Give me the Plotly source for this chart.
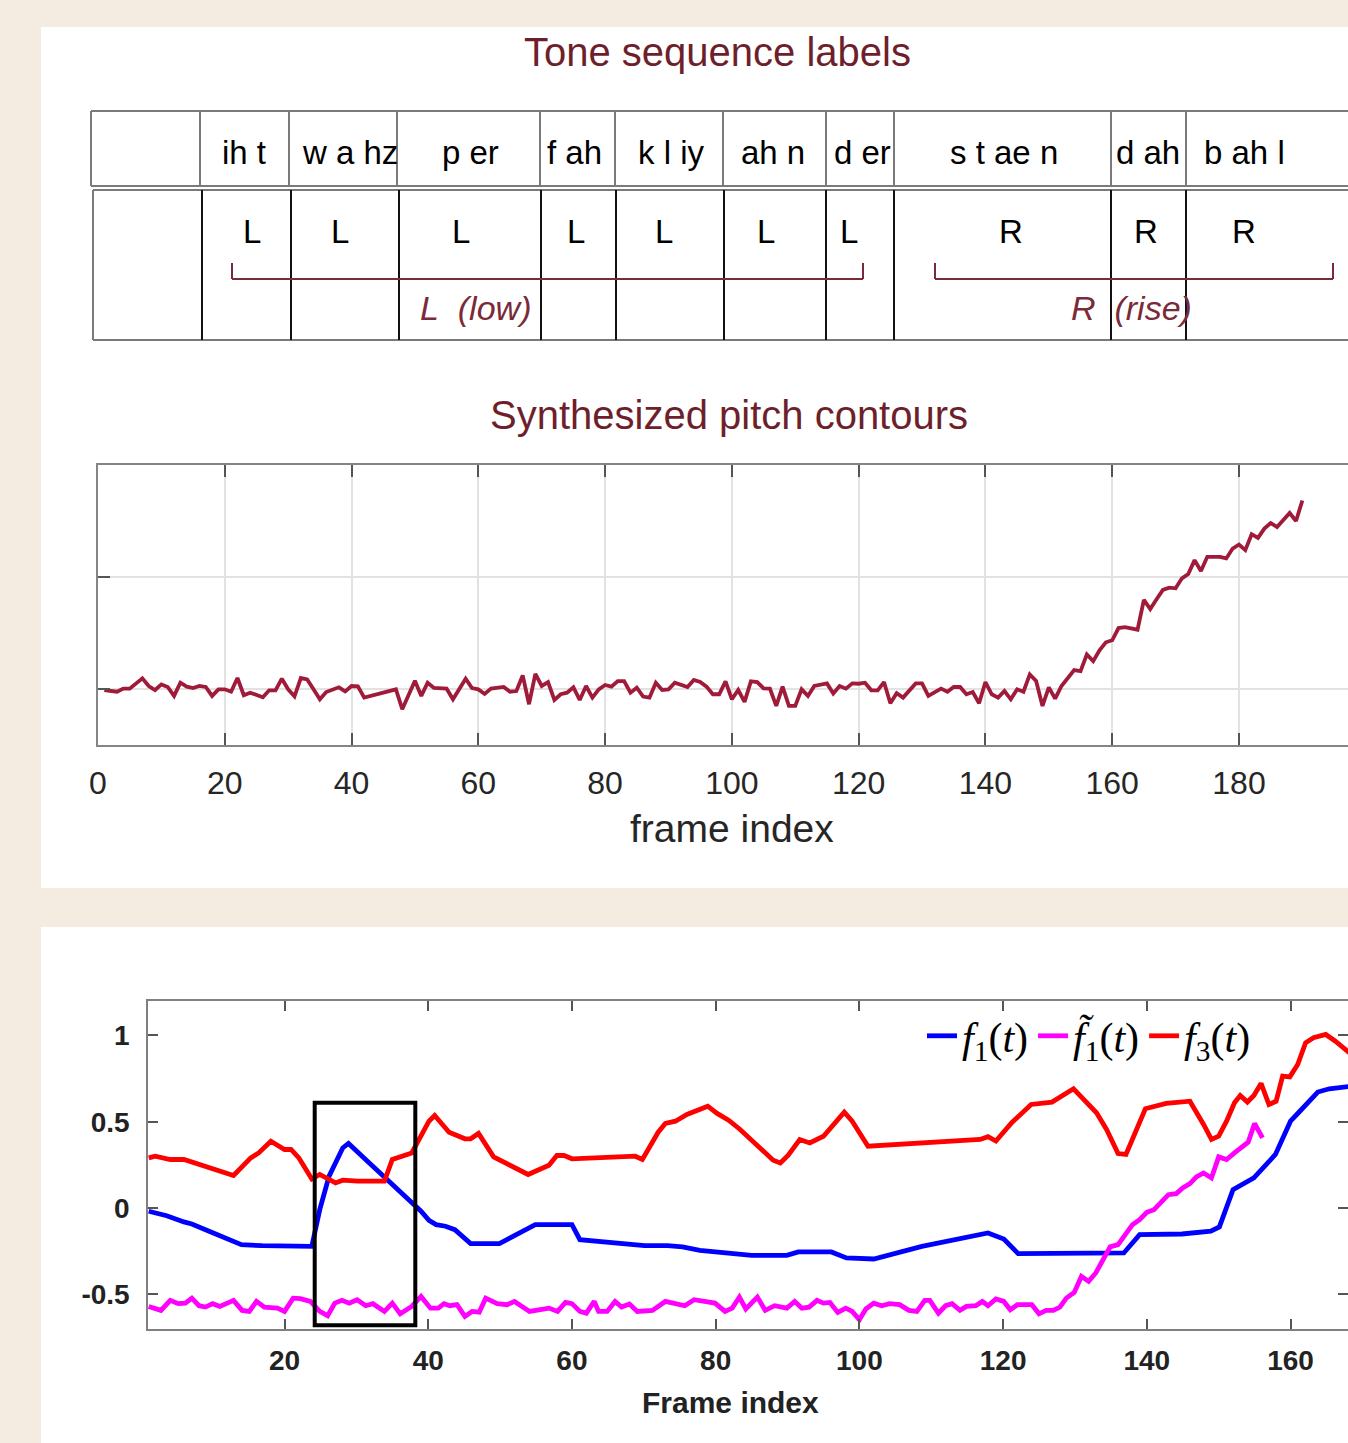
import plotly.graph_objects as go

W, H = 1348, 1443
BEIGE = "#f5ece1"
MAROON = "#6e1f2c"
CONTOUR = "#a01a3a"

# ---------------- data ----------------
syllables = ["ih t", "w a hz", "p er", "f ah", "k l iy", "ah n", "d er", "s t ae n", "d ah", "b ah l"]
tones = ["L", "L", "L", "L", "L", "L", "L", "R", "R", "R"]
tone_groups = ["L  (low)", "R  (rise)"]

pitch_frames = [
    1, 3, 4, 5, 7, 8, 9, 10, 11, 12,
    13, 14, 15, 16, 17, 18, 19, 20, 21, 22,
    23, 24, 26, 27, 28, 29, 30, 31, 32, 33,
    34, 35, 36, 37, 38, 39, 40, 41, 42, 47,
    48, 50, 51, 52, 53, 55, 56, 58, 59, 60,
    61, 62, 64, 65, 66, 67, 68, 69, 70, 71,
    72, 73, 74, 75, 76, 77, 78, 79, 80, 81,
    82, 83, 84, 85, 86, 87, 88, 89, 90, 91,
    93, 94, 95, 96, 97, 98, 99, 100, 101, 102,
    103, 104, 105, 106, 107, 108, 109, 110, 111, 112,
    113, 115, 116, 117, 118, 119, 120, 121, 122, 123,
    124, 125, 126, 127, 128, 129, 130, 131, 133, 134,
    135, 136, 137, 138, 139, 140, 141, 142, 143, 144,
    145, 146, 147, 148, 149, 150, 151, 152, 154, 155,
    156, 157, 158, 159, 160, 161, 162, 164, 165, 166,
    167, 168, 169, 170, 171, 172, 173, 174, 175, 177,
    178, 179, 180, 181, 182, 183, 184, 185, 186, 188,
    189, 190,
]
pitch_values = [
    -0.009, -0.024, 0.003, 0.003, 0.095, 0.027, -0.009, 0.041, 0.018, -0.062,
    0.056, 0.021, 0.009, 0.027, 0.018, -0.062, -0.003, -0.003, -0.024, 0.098,
    -0.056, -0.033, -0.074, -0.012, -0.012, 0.092, -0.003, -0.065, 0.098, 0.086,
    -0.003, -0.092, -0.027, -0.003, 0.015, -0.021, 0.027, 0.024, -0.077, -0.003,
    -0.180, 0.074, -0.062, 0.056, 0.009, 0.003, -0.092, 0.092, 0.009, -0.003,
    -0.044, 0.003, 0.018, -0.024, -0.018, 0.121, -0.136, 0.136, 0.027, 0.062,
    -0.098, -0.047, -0.033, 0.015, -0.098, 0.027, -0.077, -0.003, 0.036, 0.021,
    0.071, 0.071, -0.033, 0.012, -0.068, -0.077, 0.056, -0.009, -0.003, 0.056,
    0.018, 0.080, 0.062, 0.021, -0.047, -0.047, 0.068, -0.092, -0.009, -0.115,
    0.068, 0.062, 0.006, 0.003, -0.151, 0.021, -0.151, -0.151, -0.003, -0.062,
    0.027, 0.050, -0.041, 0.027, 0.003, 0.050, 0.047, 0.056, -0.012, -0.012,
    0.062, -0.127, -0.038, -0.077, -0.012, 0.050, 0.050, -0.062, 0.003, -0.024,
    0.018, 0.018, -0.047, -0.027, -0.127, 0.062, -0.047, -0.077, -0.018, -0.092,
    -0.003, -0.024, 0.130, 0.071, -0.151, 0.015, -0.086, 0.027, 0.169, 0.160,
    0.308, 0.249, 0.346, 0.417, 0.435, 0.544, 0.553, 0.530, 0.796, 0.713,
    0.802, 0.885, 0.905, 0.899, 0.988, 1.027, 1.151, 1.053, 1.180, 1.180,
    1.166, 1.254, 1.290, 1.240, 1.382, 1.349, 1.432, 1.482, 1.447, 1.571,
    1.500, 1.683,
]

f1_frames = [1.1, 3.6, 6.0, 7.1, 9.5, 14.0, 16.9, 20.1, 23.8, 24.9,
             26.2, 28.1, 28.9, 31.8, 34.5, 37.7, 39.0, 40.1, 41.1, 42.4,
             43.7, 45.9, 49.9, 54.9, 60.0, 61.1, 64.8, 70.1, 73.3, 75.4,
             77.8, 80.7, 83.4, 85.0, 89.9, 91.5, 96.1, 98.2, 102.0, 108.7,
             117.9, 120.1, 122.1, 130.3, 136.8, 139.0, 144.9, 148.9, 150.1, 152.0,
             153.0, 154.9, 157.9, 160.0, 161.1, 163.8, 165.4, 168.5]
f1_values = [-0.019, -0.045, -0.081, -0.093, -0.135, -0.213, -0.219, -0.223, -0.223, -0.010,
             0.184, 0.348, 0.374, 0.261, 0.155, 0.029, -0.019, -0.072, -0.097, -0.106,
             -0.126, -0.207, -0.207, -0.097, -0.097, -0.184, -0.199, -0.219, -0.219, -0.226,
             -0.246, -0.255, -0.267, -0.275, -0.275, -0.255, -0.255, -0.290, -0.296, -0.223,
             -0.145, -0.180, -0.265, -0.261, -0.261, -0.155, -0.151, -0.135, -0.110, 0.106,
             0.130, 0.174, 0.310, 0.503, 0.552, 0.672, 0.691, 0.706]

f1t_frames = [1.1, 2.8, 4.1, 5.2, 6.2, 7.1, 8.1, 9.0, 10.0, 11.0,
              12.9, 14.1, 15.1, 16.1, 17.2, 19.0, 20.0, 21.2, 22.2, 23.6,
              24.9, 26.0, 27.0, 28.0, 29.0, 30.1, 31.3, 32.3, 33.9, 35.0,
              36.1, 37.7, 39.0, 40.3, 41.4, 42.2, 43.0, 44.0, 45.1, 46.1,
              47.1, 48.0, 49.6, 51.0, 52.0, 54.1, 56.8, 58.0, 59.1, 60.0,
              61.1, 62.0, 63.1, 63.7, 64.9, 66.0, 66.9, 68.0, 69.1, 71.2,
              73.0, 74.4, 75.7, 77.0, 78.9, 79.9, 81.3, 82.3, 83.3,
              84.2, 85.8, 86.9, 88.2, 89.9, 91.0, 92.0, 93.0, 94.1, 95.0,
              95.9, 97.0, 98.1, 99.0, 100.0, 100.9, 102.0, 103.1, 104.2, 105.6,
              106.9, 108.0, 109.1, 109.8, 111.0, 112.0, 112.9, 114.0, 114.9, 116.2,
              117.1, 117.9, 119.0, 120.1, 121.0, 122.0, 124.0, 125.0, 126.0, 127.0,
              127.9, 128.8, 129.9, 130.9, 131.9, 132.9, 134.0, 134.9, 136.0, 136.9,
              138.0, 139.0, 140.0, 141.0, 141.9, 143.0, 144.1, 145.0, 146.0, 146.9,
              147.9, 149.0, 150.0, 151.1, 152.2, 153.1, 154.1, 155.0, 156.1]
f1t_values = [-0.571, -0.594, -0.536, -0.555, -0.552, -0.523, -0.567, -0.575, -0.555, -0.571,
              -0.536, -0.594, -0.600, -0.542, -0.575, -0.581, -0.600, -0.523, -0.526, -0.542,
              -0.600, -0.625, -0.552, -0.536, -0.552, -0.532, -0.567, -0.555, -0.600, -0.552,
              -0.614, -0.571, -0.513, -0.581, -0.581, -0.555, -0.567, -0.561, -0.629, -0.600,
              -0.604, -0.523, -0.555, -0.561, -0.542, -0.600, -0.581, -0.600, -0.548, -0.555,
              -0.600, -0.610, -0.542, -0.600, -0.600, -0.542, -0.575, -0.557, -0.600, -0.594,
              -0.542, -0.555, -0.567, -0.532, -0.542, -0.552, -0.600, -0.581, -0.517,
              -0.586, -0.517, -0.594, -0.567, -0.581, -0.542, -0.581, -0.575, -0.536, -0.552,
              -0.548, -0.606, -0.581, -0.600, -0.648, -0.586, -0.552, -0.567, -0.555, -0.561,
              -0.594, -0.600, -0.536, -0.536, -0.610, -0.567, -0.555, -0.594, -0.571, -0.567,
              -0.542, -0.567, -0.528, -0.542, -0.590, -0.561, -0.561, -0.614, -0.594, -0.594,
              -0.575, -0.523, -0.490, -0.397, -0.426, -0.377, -0.290, -0.226, -0.213, -0.165,
              -0.097, -0.068, -0.025, -0.010, 0.033, 0.077, 0.083, 0.116, 0.141, 0.180,
              0.203, 0.174, 0.296, 0.281, 0.319, 0.348, 0.381, 0.490, 0.406]

f3_frames = [1.1, 2.0, 4.1, 6.0, 12.9, 15.3, 16.4, 18.1, 20.0, 20.9,
             22.0, 23.3, 23.8, 24.9, 27.1, 28.1, 30.2, 33.9, 35.0, 37.7,
             40.1, 40.9, 42.9, 45.1, 45.9, 47.0, 49.1, 53.9, 56.0, 56.8,
             57.9, 58.9, 60.0, 68.8, 69.8, 72.0, 73.0, 74.4, 76.0, 78.9,
             80.2, 81.8, 83.4, 85.5, 88.0, 89.0, 90.1, 91.7, 93.1, 95.0,
             96.3, 97.9, 99.0, 101.2, 116.8, 117.9, 119.0, 121.2, 123.9, 126.8,
             129.8, 133.0, 134.4, 136.0, 137.1, 139.8, 142.7, 146.0, 147.9, 149.0,
             150.0, 151.1, 152.2, 153.0, 154.0, 154.9, 155.9, 157.0, 158.0, 158.9,
             159.9, 161.0, 162.1, 163.2, 164.9, 166.2, 168.5]
f3_values = [0.290, 0.300, 0.281, 0.281, 0.188, 0.290, 0.319, 0.387, 0.339, 0.339,
             0.290, 0.194, 0.168, 0.194, 0.145, 0.161, 0.155, 0.155, 0.281, 0.319,
             0.503, 0.536, 0.439, 0.401, 0.401, 0.432, 0.296, 0.194, 0.236, 0.248,
             0.304, 0.304, 0.285, 0.300, 0.281, 0.439, 0.490, 0.503, 0.542, 0.590,
             0.548, 0.509, 0.455, 0.374, 0.277, 0.261, 0.306, 0.397, 0.377, 0.416,
             0.474, 0.555, 0.503, 0.358, 0.397, 0.413, 0.388, 0.494, 0.600, 0.614,
             0.691, 0.552, 0.455, 0.315, 0.310, 0.575, 0.606, 0.619, 0.484, 0.397,
             0.416, 0.503, 0.610, 0.652, 0.614, 0.652, 0.722, 0.600, 0.619, 0.764,
             0.760, 0.832, 0.958, 0.987, 1.006, 0.968, 0.890]

box_frames = [24.2, 38.2]
box_levels = [-0.68, 0.61]

mid_xticks = [0, 20, 40, 60, 80, 100, 120, 140, 160, 180]
bot_xticks = [20, 40, 60, 80, 100, 120, 140, 160]
bot_yticks = [-0.5, 0, 0.5, 1]
bot_yticklabels = ["-0.5", "0", "0.5", "1"]

legend_names = ["<i>f</i><sub>1</sub>(<i>t</i>)",
                "<i>f\u0303</i><sub>1</sub>(<i>t</i>)",
                "<i>f</i><sub>3</sub>(<i>t</i>)"]

# ---------------- helpers ----------------
def px(x):
    return x / W


def py(y):
    return 1 - y / H


SANS = "Liberation Sans, Arial, sans-serif"
SERIF = "Liberation Serif, Times New Roman, serif"

fig = go.Figure()

fig.add_trace(go.Scatter(x=pitch_frames, y=pitch_values, mode="lines",
                         line=dict(color=CONTOUR, width=3.8), xaxis="x", yaxis="y",
                         showlegend=False, hoverinfo="skip"))

for xs, ys, col, nm in [(f1_frames, f1_values, "#0000ff", legend_names[0]),
                        (f1t_frames, f1t_values, "#ff00ff", legend_names[1]),
                        (f3_frames, f3_values, "#ff0000", legend_names[2])]:
    fig.add_trace(go.Scatter(x=xs, y=ys, mode="lines", name=nm,
                             line=dict(color=col, width=4.8), xaxis="x2", yaxis="y2"))

shapes = []
# white panels
shapes.append(dict(type="rect", xref="paper", yref="paper", x0=px(41), x1=1, y0=py(888), y1=py(27),
                   fillcolor="white", line=dict(width=0), layer="below"))
shapes.append(dict(type="rect", xref="paper", yref="paper", x0=px(41), x1=1, y0=py(1443), y1=py(927),
                   fillcolor="white", line=dict(width=0), layer="below"))


def hline(x0, x1, y, color, w):
    shapes.append(dict(type="line", xref="paper", yref="paper", x0=px(x0), x1=px(x1),
                       y0=py(y), y1=py(y), line=dict(color=color, width=w)))


def vline(x, y0, y1, color, w):
    shapes.append(dict(type="line", xref="paper", yref="paper", x0=px(x), x1=px(x),
                       y0=py(y0), y1=py(y1), line=dict(color=color, width=w)))


GREY = "#7a7a7a"
# row 1
hline(91, 1348, 111, GREY, 2)
hline(91, 1348, 186, GREY, 2)
vline(91, 111, 186, GREY, 2)
for x in [200, 289, 397, 540, 615, 723, 826, 894, 1111, 1186]:
    vline(x, 111, 186, GREY, 2)
# row 2
hline(93, 1348, 190, GREY, 2)
hline(93, 1348, 340, GREY, 2)
vline(93, 190, 340, GREY, 2)
for x in [202, 291, 399, 541, 616, 724, 826, 894, 1111, 1186]:
    vline(x, 190, 340, "#111111", 2)
# brackets
for xa, xb in [(232, 863), (935, 1333)]:
    hline(xa, xb, 279, "#7a2a38", 2)
    vline(xa, 263, 279, "#7a2a38", 2)
    vline(xb, 263, 279, "#7a2a38", 2)

# highlighted region box in bottom chart (data coordinates)
shapes.append(dict(type="rect", xref="x2", yref="y2", x0=box_frames[0], x1=box_frames[1],
                   y0=box_levels[0], y1=box_levels[1], line=dict(color="black", width=4)))

annotations = []


def text(x, y, s, size, color="black", family=SANS, bold=False):
    font = dict(size=size, color=color, family=family)
    if bold:
        font["weight"] = "bold"
    annotations.append(dict(x=px(x), y=py(y), xref="paper", yref="paper", text=s, showarrow=False,
                            xanchor="center", yanchor="middle", font=font))


text(717, 52, "Tone sequence labels", 40, MAROON)
text(729, 415, "Synthesized pitch contours", 40, MAROON)

syl_x = [244, 350, 470, 574, 671, 773, 862, 1004, 1148, 1244]
tone_x = [252, 340, 461, 576, 664, 766, 849, 1011, 1146, 1244]
for s, x in zip(syllables, syl_x):
    text(x, 152, s.replace(" ", "\u00a0"), 33)
for s, x in zip(tones, tone_x):
    text(x, 232, s, 33)
text(475, 308, "<i>" + tone_groups[0].replace(" ", "\u00a0") + "</i>", 34, "#7a2a38")
text(1131, 308, "<i>" + tone_groups[1].replace(" ", "\u00a0") + "</i>", 34, "#7a2a38")

# axis titles (placed like the reference, slightly off the plot-area centre)
text(732, 828, "frame index", 39, "#262626")
text(730, 1402, "Frame index", 30, "#222222", bold=True)

fig.update_layout(
    width=W, height=H, autosize=False,
    margin=dict(l=0, r=0, t=0, b=0, pad=0, autoexpand=False),
    paper_bgcolor=BEIGE, plot_bgcolor="white",
    shapes=shapes, annotations=annotations,
    showlegend=True,
    legend=dict(orientation="h", x=px(922), y=py(1002), xanchor="left", yanchor="top",
                bgcolor="rgba(0,0,0,0)", font=dict(family=SERIF, size=42, color="black"),
                itemwidth=30, tracegroupgap=0),
    xaxis=dict(domain=[px(98), 1], range=[0, 197.2], anchor="y", automargin=False,
               tickvals=mid_xticks, ticks="inside", ticklen=12, tickwidth=1.5, tickcolor="#555555",
               showline=True, linecolor="#858585", linewidth=2, mirror="ticks",
               showgrid=True, gridcolor="#e2e2e2", gridwidth=1.5, zeroline=False,
               tickfont=dict(family=SANS, size=32, color="#262626"), ticklabelstandoff=9),
    yaxis=dict(domain=[py(745), py(465)], range=[-0.5, 2.0], anchor="x", automargin=False,
               tickvals=[0, 1, 2], showticklabels=False, ticks="inside", ticklen=12, tickwidth=1.5,
               tickcolor="#555555", showline=True, linecolor="#858585", linewidth=2, mirror=False,
               showgrid=True, gridcolor="#e2e2e2", gridwidth=1.5, zeroline=False),
    xaxis2=dict(domain=[px(148), 1], range=[1, 168], anchor="y2", automargin=False,
                tickvals=bot_xticks, ticks="inside", ticklen=10, tickwidth=1.5, tickcolor="#555555",
                showline=True, linecolor="#808080", linewidth=1.5, mirror="ticks",
                showgrid=False, zeroline=False,
                tickfont=dict(family=SANS, size=28, color="#222222", weight="bold"), ticklabelstandoff=6),
    yaxis2=dict(domain=[py(1329), py(1001)], range=[-0.702, 1.2], anchor="x2", automargin=False,
                tickvals=bot_yticks, ticktext=bot_yticklabels, ticks="inside", ticklen=10, tickwidth=1.5,
                tickcolor="#555555", showline=True, linecolor="#808080", linewidth=1.5, mirror="ticks",
                showgrid=False, zeroline=False,
                tickfont=dict(family=SANS, size=28, color="#222222", weight="bold"), ticklabelstandoff=11),
)

fig.write_html("out.html", config={"displayModeBar": False},
               post_script="document.body.style.margin='0';document.body.style.overflow='hidden';")
